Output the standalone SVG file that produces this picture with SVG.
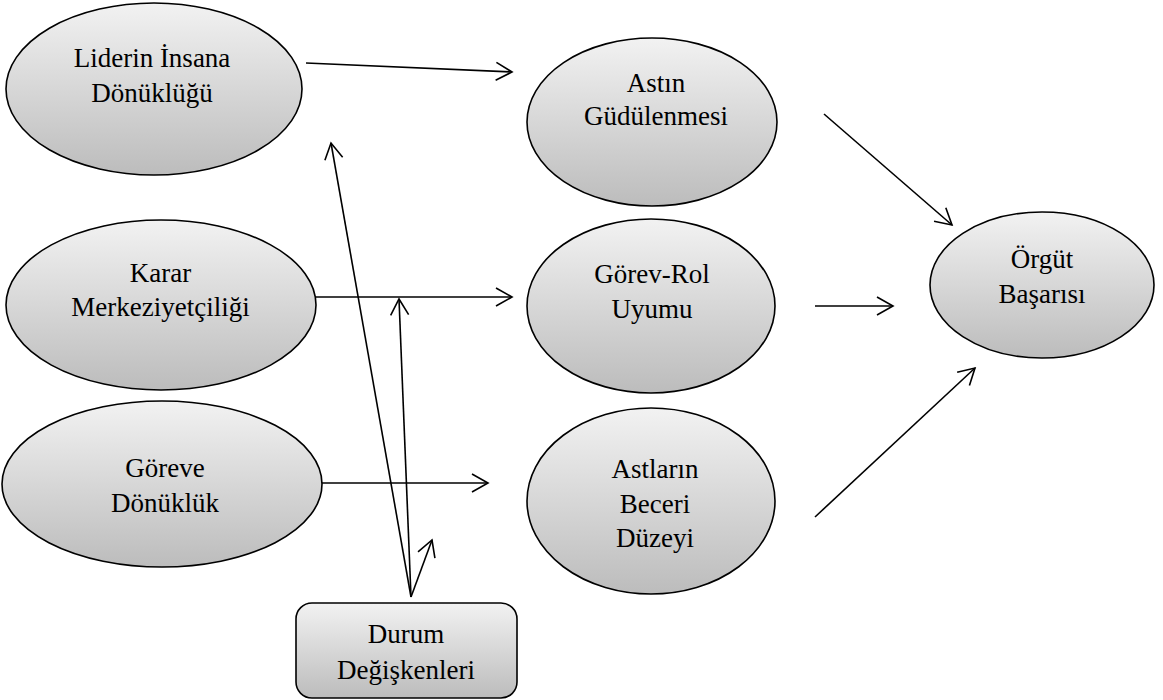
<svg xmlns="http://www.w3.org/2000/svg" width="1163" height="700" viewBox="0 0 1163 700">
<defs>
<linearGradient id="g" x1="0" y1="0" x2="0" y2="1">
<stop offset="0" stop-color="#f2f2f2"/>
<stop offset="1" stop-color="#bcbcbc"/>
</linearGradient>
<marker id="arr" markerUnits="userSpaceOnUse" viewBox="-20 -12 24 24" markerWidth="24" markerHeight="24" refX="0" refY="0" orient="auto">
<path d="M-16,-9 L0,0 L-16,9" fill="none" stroke="#000" stroke-width="1.6"/>
</marker>
</defs>
<style>
.n{fill:url(#g);stroke:#000;stroke-width:1.6}
.t{font-family:"Liberation Serif","Times New Roman",serif;font-size:27px;fill:#000;text-anchor:middle}
.c{stroke:#000;stroke-width:1.6;fill:none;marker-end:url(#arr)}
</style>
<rect width="1163" height="700" fill="#fff"/>
<g id="n-liderin"><ellipse class="n" cx="154" cy="89" rx="148" ry="86"/><text class="t" x="152" y="67">Liderin İnsana</text><text class="t" x="152" y="102">Dönüklüğü</text></g>
<g id="n-karar"><ellipse class="n" cx="161" cy="305" rx="155" ry="85"/><text class="t" x="160.5" y="282">Karar</text><text class="t" x="160.5" y="316">Merkeziyetçiliği</text></g>
<g id="n-goreve"><ellipse class="n" cx="162" cy="484" rx="160" ry="83"/><text class="t" x="165" y="477">Göreve</text><text class="t" x="165" y="512">Dönüklük</text></g>
<g id="n-astin"><ellipse class="n" cx="652" cy="122" rx="125" ry="84"/><text class="t" x="656" y="92">Astın</text><text class="t" x="656" y="125">Güdülenmesi</text></g>
<g id="n-gorevrol"><ellipse class="n" cx="651" cy="306" rx="124" ry="87"/><text class="t" x="652" y="283">Görev-Rol</text><text class="t" x="652" y="318">Uyumu</text></g>
<g id="n-astlarin"><ellipse class="n" cx="651" cy="501" rx="124" ry="93"/><text class="t" x="655" y="478">Astların</text><text class="t" x="655" y="513">Beceri</text><text class="t" x="655" y="547">Düzeyi</text></g>
<g id="n-orgut"><ellipse class="n" cx="1042" cy="285" rx="112" ry="73"/><text class="t" x="1042" y="268">Örgüt</text><text class="t" x="1042" y="303">Başarısı</text></g>
<g id="n-durum"><rect class="n" x="296" y="603" width="221" height="95" rx="16" ry="16"/><text class="t" x="406" y="643">Durum</text><text class="t" x="406" y="679">Değişkenleri</text></g>
<g id="connectors">
<line class="c" x1="306" y1="63" x2="512" y2="72"/>
<line class="c" x1="316" y1="297" x2="512" y2="297"/>
<line class="c" x1="322" y1="483" x2="488" y2="483"/>
<line class="c" x1="824" y1="114" x2="952" y2="225"/>
<line class="c" x1="815" y1="306" x2="893" y2="306"/>
<line class="c" x1="815" y1="517" x2="975" y2="368"/>
<line class="c" x1="411" y1="597" x2="331" y2="143"/>
<line class="c" x1="411" y1="597" x2="399" y2="299"/>
<line class="c" x1="411" y1="597" x2="432" y2="540"/>
</g>
</svg>
